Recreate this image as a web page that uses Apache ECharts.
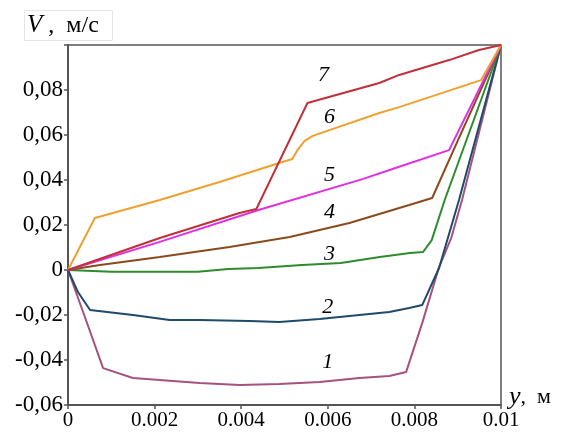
<!DOCTYPE html>
<html>
<head>
<meta charset="utf-8">
<script src="https://cdn.jsdelivr.net/npm/echarts@6/dist/echarts.min.js"></script>
<style>
  html, body { margin: 0; padding: 0; background: #fff; }
  #chart { width: 564px; height: 433px; }
</style>
</head>
<body>
<div id="chart"></div>
<script>
  // профили скорости, точки [y, V]
  var curve1 = [[0, 0], [0.00039, -0.0209], [0.00081, -0.0436], [0.0015, -0.048], [0.00304, -0.0502],
    [0.00396, -0.0511], [0.00488, -0.0507], [0.00581, -0.0498], [0.00673, -0.048], [0.00742, -0.0471],
    [0.00781, -0.0453], [0.00818, -0.0236], [0.00857, 0.0013], [0.00885, 0.0142], [0.0091, 0.0311], [0.01, 0.1]]
  var curve2 = [[0, 0], [0.00023, -0.0098], [0.00051, -0.0178], [0.0015, -0.02], [0.00235, -0.0222],
    [0.00304, -0.0222], [0.00419, -0.0227], [0.00488, -0.0231], [0.00581, -0.0218], [0.00673, -0.02],
    [0.00742, -0.0187], [0.00788, -0.0169], [0.00818, -0.0156], [0.00857, 0.0009], [0.00903, 0.0311], [0.01, 0.1]]
  var curve3 = [[0, 0], [0.001, -0.0008], [0.003, -0.0008], [0.0037, 0.0004], [0.0044, 0.0009],
    [0.0054, 0.0022], [0.0063, 0.0031], [0.0072, 0.0058], [0.0079, 0.0076], [0.0082, 0.008],
    [0.0084, 0.0133], [0.0087, 0.0311], [0.01, 0.1]]
  var curve4 = [[0, 0], [0.00074, 0.0022], [0.00212, 0.0058], [0.00373, 0.0102], [0.00512, 0.0147],
    [0.0065, 0.0209], [0.00788, 0.0289], [0.00841, 0.032], [0.00901, 0.0578], [0.01, 0.1]]
  var curve5 = [[0, 0], [0.0021, 0.0124], [0.0044, 0.0267], [0.0068, 0.0404], [0.0077, 0.0462],
    [0.0088, 0.0533], [0.01, 0.1]]
  var curve6 = [[0, 0], [0.00062, 0.0231], [0.00212, 0.0311], [0.0035, 0.0391], [0.00495, 0.048],
    [0.00518, 0.0493], [0.0053, 0.0533], [0.00546, 0.0573], [0.00565, 0.0596], [0.00719, 0.0698],
    [0.00765, 0.0724], [0.00954, 0.0844], [0.01, 0.1]]
  var curve7 = [[0, 0], [0.00212, 0.0142], [0.00396, 0.0253], [0.00435, 0.0271], [0.00553, 0.0742],
    [0.00719, 0.0831], [0.00765, 0.0867], [0.0088, 0.0933], [0.00949, 0.0978], [0.01, 0.1]]

  var curves = [curve1, curve2, curve3, curve4, curve5, curve6, curve7]
  var colors = ['#a5527e', '#1f4a6a', '#2e8b2e', '#8b4a1e', '#e030e0', '#f0a030', '#c0303a']

  // номера кривых
  var labelTexts = ['1', '2', '3', '4', '5', '6', '7']
  var labelX = [0.006, 0.006, 0.00604, 0.00604, 0.00604, 0.00604, 0.0059]
  var labelY = [-0.0409, -0.0164, 0.0071, 0.0258, 0.0422, 0.068, 0.0867]

  var serif = '"Liberation Serif", "DejaVu Serif", serif'

  var chart = echarts.init(document.getElementById('chart'))

  var series = curves.map(function (c, i) {
    return {
      type: 'line',
      data: c,
      showSymbol: false,
      silent: true,
      lineStyle: { color: colors[i], width: 2 },
      animation: false
    }
  })

  series.push({
    type: 'scatter',
    data: labelX.map(function (x, i) { return [x, labelY[i]] }),
    symbolSize: 0,
    itemStyle: { color: '#000', opacity: 1 },
    silent: true,
    animation: false,
    label: {
      show: true,
      position: 'inside',
      fontFamily: serif,
      fontStyle: 'italic',
      fontSize: 22,
      color: '#000',
      opacity: 1,
      textBorderWidth: 0,
      formatter: function (p) { return labelTexts[p.dataIndex] }
    }
  })

  chart.setOption({
    backgroundColor: '#fff',
    animation: false,
    grid: {
      left: 68,
      right: 63,
      top: 45,
      bottom: 28,
      show: true,
      borderColor: '#555',
      borderWidth: 1.5
    },
    xAxis: {
      type: 'value',
      min: 0,
      max: 0.01,
      interval: 0.002,
      splitLine: { show: false },
      axisLine: { onZero: false, lineStyle: { color: '#555', width: 2 } },
      axisTick: { show: true, length: 4, lineStyle: { color: '#555', width: 1.5 } },
      axisLabel: {
        fontFamily: serif,
        fontSize: 21,
        color: '#000',
        margin: 5,
        formatter: function (v) { return String(parseFloat(v.toFixed(3))) }
      }
    },
    yAxis: {
      type: 'value',
      min: -0.06,
      max: 0.1,
      interval: 0.02,
      splitLine: { show: false },
      axisLine: { onZero: false, lineStyle: { color: '#555', width: 2 } },
      axisTick: { show: true, length: 4, lineStyle: { color: '#555', width: 1.5 } },
      axisLabel: {
        fontFamily: serif,
        fontSize: 23,
        color: '#000',
        margin: 5,
        formatter: function (v) {
          var r = Math.round(v * 100) / 100
          if (r >= 0.1) return ''
          return String(r).replace('.', ',')
        }
      }
    },
    graphic: [
      {
        type: 'rect',
        left: 24,
        top: 10,
        shape: { width: 88, height: 30 },
        style: { fill: '#fff', stroke: '#e6e6e6', lineWidth: 1 }
      },
      {
        type: 'text',
        left: 27,
        top: 13,
        style: {
          text: '{i|V} ,  м/с',
          font: '24px ' + serif,
          fill: '#000',
          rich: { i: { fontFamily: serif, fontStyle: 'italic', fontSize: 25, fill: '#000' } }
        }
      },
      {
        type: 'text',
        left: 509,
        top: 384,
        style: {
          text: '{i|y},  м',
          font: '22px ' + serif,
          fill: '#000',
          rich: { i: { fontFamily: serif, fontStyle: 'italic', fontSize: 26, fill: '#000' } }
        }
      }
    ],
    series: series
  })
</script>
</body>
</html>
